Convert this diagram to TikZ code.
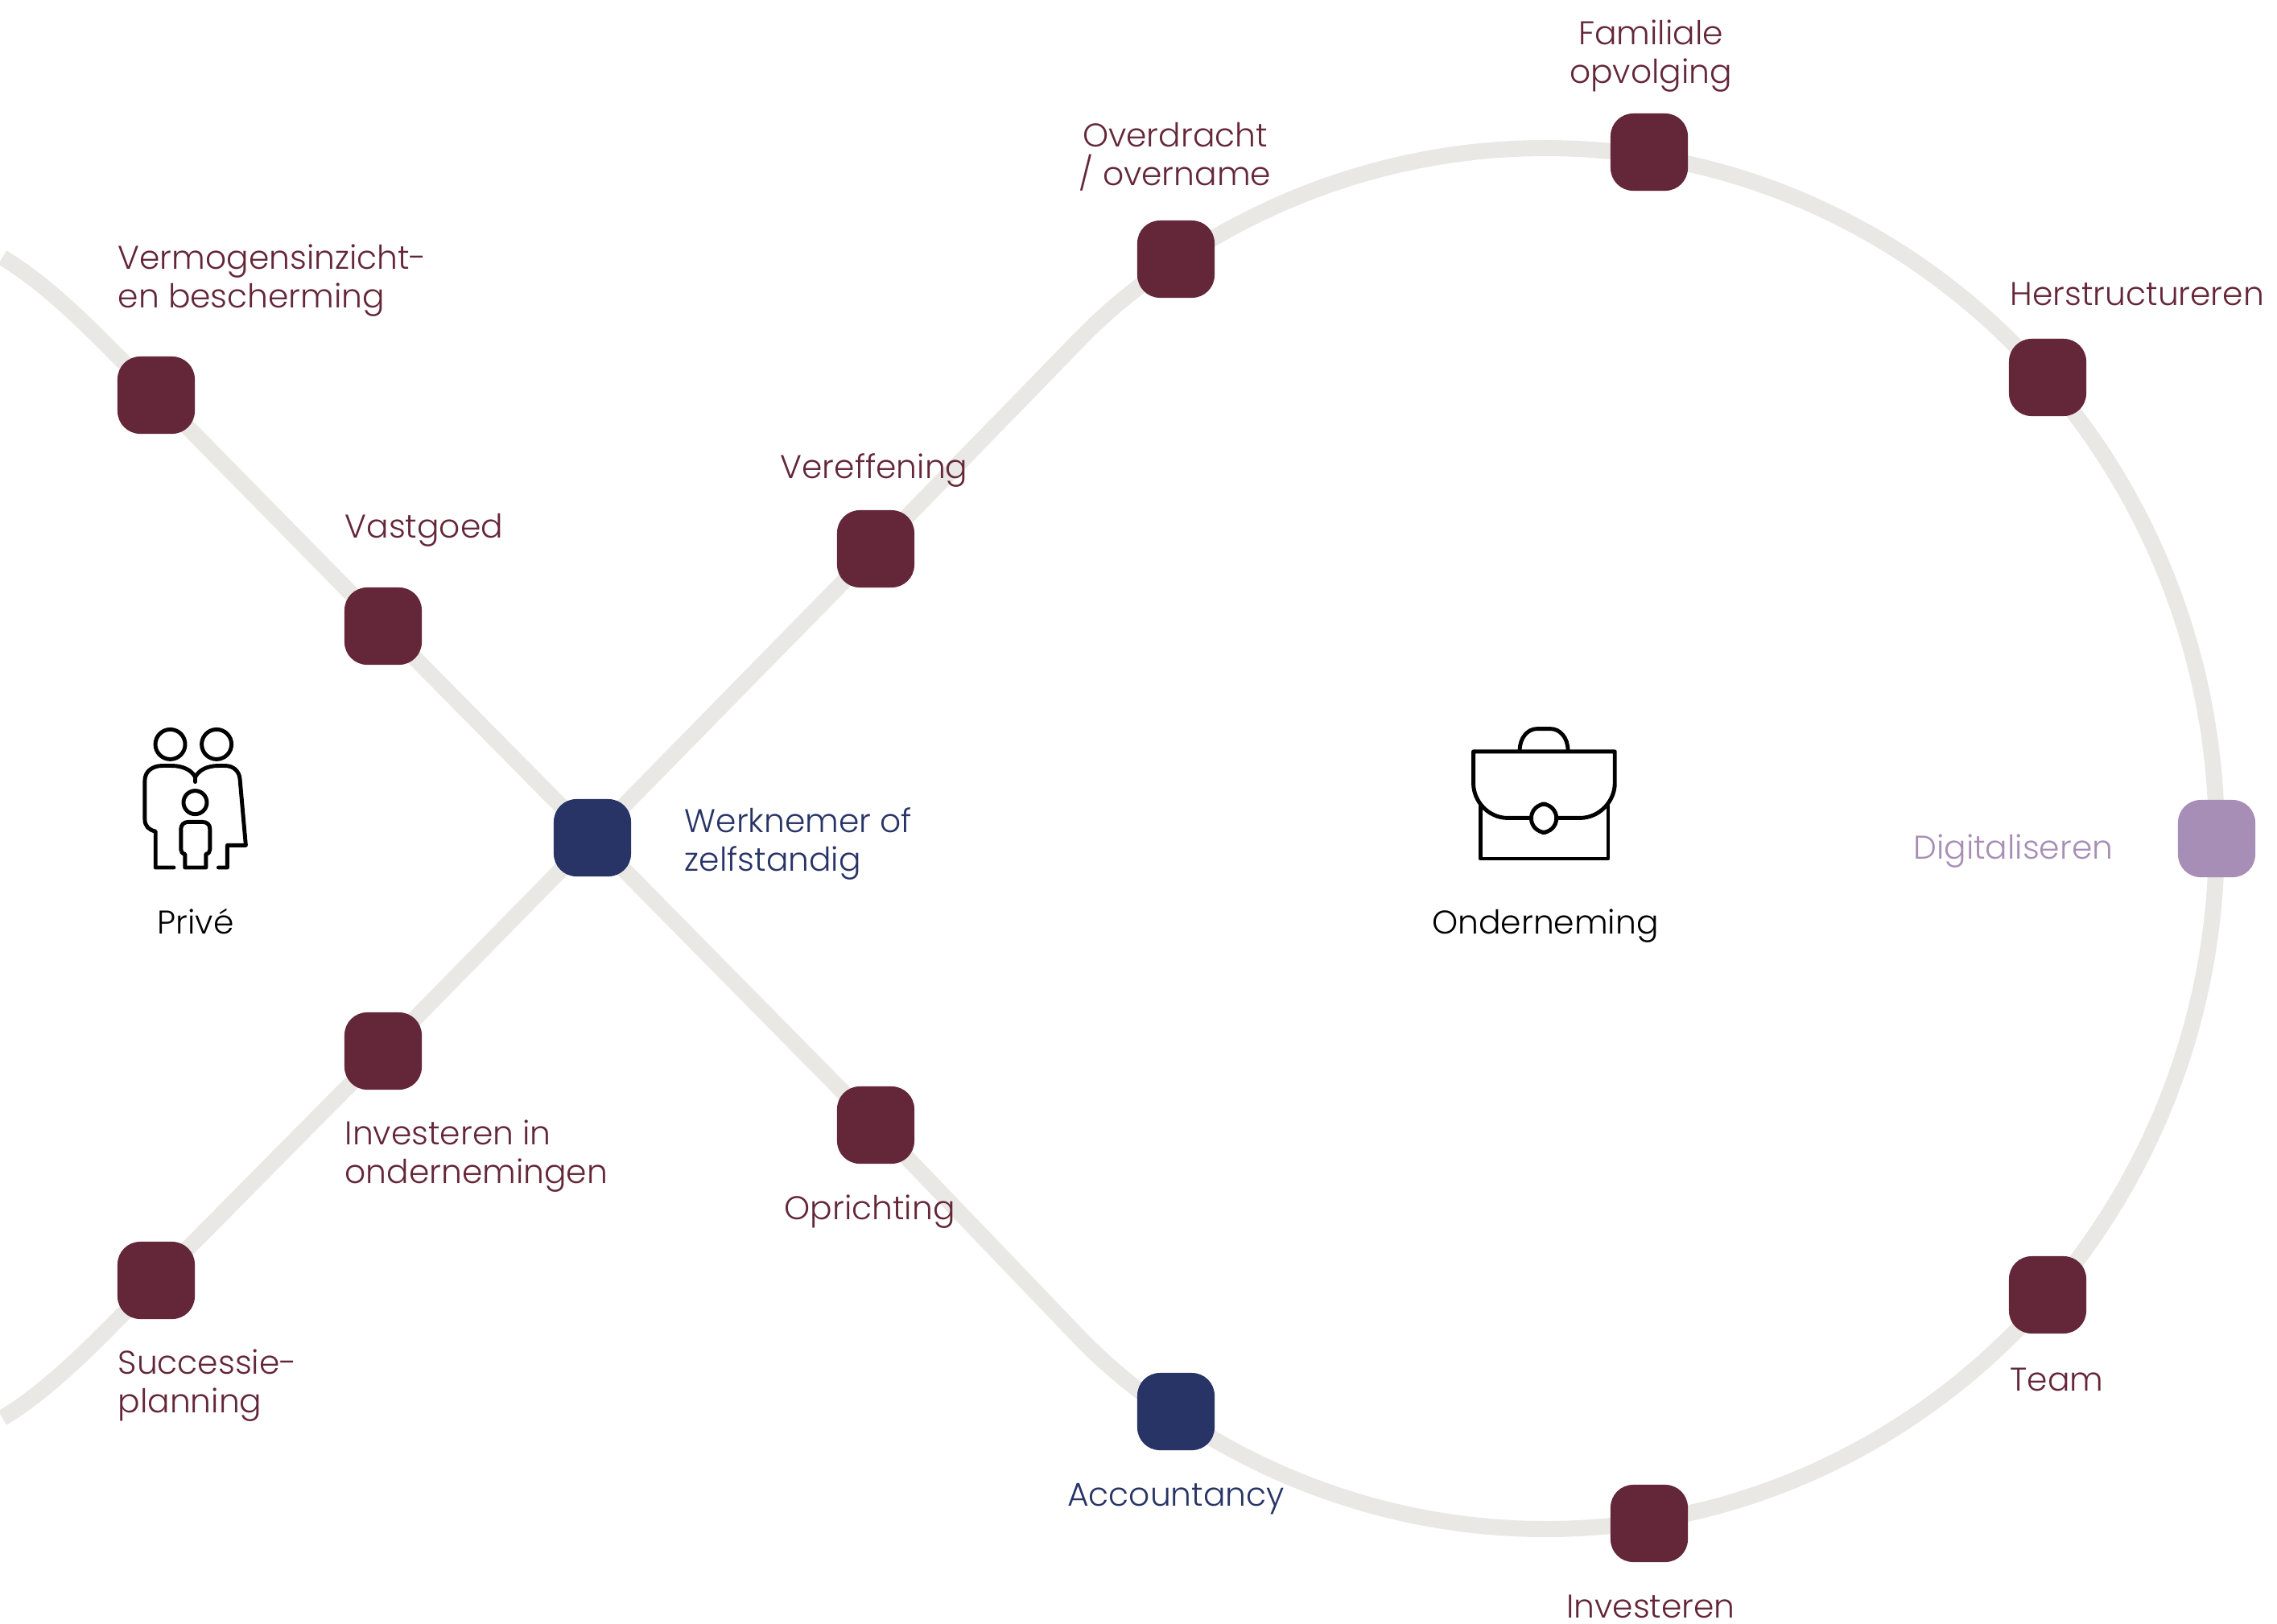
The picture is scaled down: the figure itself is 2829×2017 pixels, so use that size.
\documentclass[tikz,border=0pt]{standalone}
\usepackage{fontspec}
\setmainfont{Poppins}[UprightFont=* Light]
\usetikzlibrary{backgrounds}
\definecolor{maroon}{RGB}{100,38,57}
\definecolor{navy}{RGB}{40,52,102}
\definecolor{lilac}{RGB}{167,142,182}
\definecolor{trackgrey}{RGB}{233,232,228}
\tikzset{
  tile/.style={rounded corners=8pt,minimum size=0.96cm,inner sep=0pt,fill=#1},
  track/.style={draw=trackgrey,line width=5.7pt,line join=round},
  lbl/.style={text=#1,font=\fontsize{11.6pt}{13.6pt}\selectfont,inner sep=0pt,align=left},
  lblc/.style={text=#1,font=\fontsize{11.6pt}{13.6pt}\selectfont,inner sep=0pt,align=center},
  icon/.style={draw=black,line width=1.4pt,line join=round,line cap=round},
}
\begin{document}
\begin{tikzpicture}[x=0.01cm,y=-0.01cm]
\useasboundingbox (0,0) rectangle (2829,2017);
% tiles
\node[tile=maroon] (fam) at (2049,189) {};
\node[tile=maroon] (over) at (1461,322) {};
\node[tile=maroon] (herstr) at (2544,469) {};
\node[tile=lilac] (digi) at (2754,1042) {};
\node[tile=maroon] (team) at (2544,1609) {};
\node[tile=maroon] (invest) at (2049,1893) {};
\node[tile=navy] (acc) at (1461,1754) {};
\node[tile=maroon] (opr) at (1088,1398) {};
\node[tile=navy] (werk) at (736,1041) {};
\node[tile=maroon] (veref) at (1088,682) {};
\node[tile=maroon] (vast) at (476,778) {};
\node[tile=maroon] (verm) at (194,491) {};
\node[tile=maroon] (invond) at (476,1306) {};
\node[tile=maroon] (succ) at (194,1591) {};
% track coordinates
\coordinate (leftA) at (3,320);
\coordinate (leftB) at (3,1762);
\coordinate (upJoin) at (1343,420);
\coordinate (loUp) at (1509,295);
\coordinate (top) at (1920,184);
\coordinate (bot) at (1920,1900);
\coordinate (loDn) at (1509,1789);
\coordinate (dnJoin) at (1343,1664);
\begin{scope}[on background layer]
\draw[track] (leftA) .. controls (70,360) and (135,432) .. (verm.center)
  -- (vast.center) -- (werk.center) -- (invond.center) -- (succ.center)
  .. controls (135,1650) and (70,1722) .. (leftB);
\draw[track] (werk.center) -- (veref.center) -- (upJoin)
  .. controls (1395,367) and (1445,332) .. (loUp)
  .. controls (1634.6,222.3) and (1776.1,184) .. (top)
  .. controls (2380.6,184) and (2754,568) .. (digi.center)
  .. controls (2754,1516) and (2380.6,1900) .. (bot)
  .. controls (1776.1,1900) and (1634.6,1861.7) .. (loDn)
  .. controls (1445,1752) and (1395,1717) .. (dnJoin)
  -- (opr.center) -- (werk.center);
\end{scope}
% labels
\node[lblc=maroon,anchor=base] (tfam) at (2051,103) {Familiale\\opvolging};
\node[lblc=maroon,anchor=base] (tover) at (1460,230) {Overdracht\\/ overname};
\node[lbl=maroon,anchor=base west] (therstr) at (2497,379) {Herstructureren};
\node[lbl=maroon,anchor=base west] (tverm) at (146,382) {Vermogensinzicht-\\en bescherming};
\node[lbl=maroon,anchor=base west] (tveref) at (969,594) {Vereffening};
\node[lbl=maroon,anchor=base west] (tvast) at (428,668) {Vastgoed};
\node[lbl=navy,anchor=base west] (twerk) at (850,1082) {Werknemer of\\zelfstandig};
\node[lbl=lilac,anchor=base east] (tdigi) at (2626,1067) {Digitaliseren};
\node[lbl=maroon,anchor=base west] (tteam) at (2497,1728) {Team};
\node[lblc=maroon,anchor=base] (tinv) at (2051,2010) {Investeren};
\node[lblc=navy,anchor=base] (tacc) at (1461,1871) {Accountancy};
\node[lbl=maroon,anchor=base west] (topr) at (974,1515) {Oprichting};
\node[lbl=maroon,anchor=base west] (tio) at (428,1470) {Investeren in\\ondernemingen};
\node[lbl=maroon,anchor=base west] (tsuc) at (146,1755) {Successie-\\planning};
\node[lblc=black,anchor=base] (tpr) at (243,1160) {Privé};
\node[lblc=black,anchor=base] (tond) at (1920,1160) {Onderneming};
% family icon
\begin{scope}[shift={(130,860)},x=0.003333cm,y=-0.003333cm]
\draw[icon] (245,195) circle[radius=0.185cm];
\draw[icon] (418,195) circle[radius=0.185cm];
\draw[icon] (338,412) circle[radius=0.145cm];
\draw[icon] (258,655) -- (190,655) -- (190,520) .. controls (165,515) and (150,500) .. (150,475)
  -- (150,330) .. controls (150,295) and (180,275) .. (215,275) -- (250,275)
  .. controls (290,275) and (325,290) .. (338,318)
  .. controls (352,290) and (385,275) .. (425,275) -- (450,275)
  .. controls (480,275) and (503,295) .. (505,325) -- (527,572) -- (458,572) -- (458,655) -- (425,655);
\draw[icon] (338,318) -- (338,335);
\draw[icon] (300,655) -- (300,605) .. controls (290,603) and (285,597) .. (285,588) -- (285,510)
  .. controls (285,495) and (297,485) .. (312,485) -- (366,485)
  .. controls (382,485) and (393,495) .. (393,510) -- (393,588)
  .. controls (393,597) and (388,603) .. (378,605) -- (378,655) -- cycle;
\end{scope}
% briefcase icon
\begin{scope}[shift={(1760,860)},x=0.003333cm,y=-0.003333cm]
\draw[icon] (385,218) .. controls (385,170) and (415,137) .. (450,137) -- (500,137)
  .. controls (535,137) and (565,170) .. (565,218);
\draw[icon] (425,470) -- (340,470) .. controls (270,470) and (212,410) .. (212,340) -- (212,222)
  -- (740,222) -- (740,340) .. controls (740,410) and (680,470) .. (610,470) -- (525,470);
\draw[icon,rounded corners=5pt] (428,418) rectangle (522,524);
\draw[icon] (238,425) -- (238,622) -- (715,622) -- (715,425);
\end{scope}
\end{tikzpicture}
\end{document}
